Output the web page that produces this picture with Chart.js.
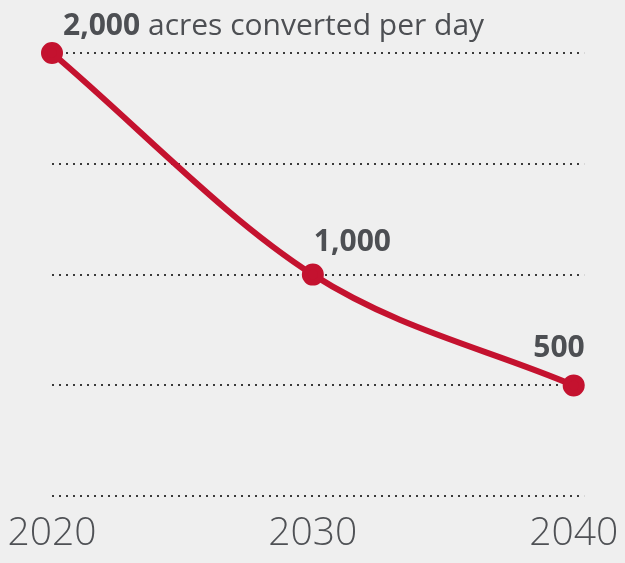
<!DOCTYPE html>
<html>
<head>
<meta charset="utf-8">
<script src="https://cdn.jsdelivr.net/npm/chart.js@4"></script>
<style>
    html, body { margin: 0; padding: 0; background: #efefef; }
    #wrap { width: 625px; height: 563px; position: relative; }
</style>
</head>
<body>
<div id="wrap"><canvas id="acresChart"></canvas></div>
<script>
// Data
const years = [2020, 2030, 2040];
const acres = [2000, 1000, 500];
const pointLabels = ['2,000', '1,000', '500'];
const gridValues = [0, 500, 1000, 1500, 2000];
const unitText = 'acres converted per day';

const lineRed = '#c4122f';
const textGray = '#4d4f53';

// Labels next to the points
const pointLabelPlugin = {
    id: 'pointLabels',
    afterDatasetsDraw(chart) {
        const ctx = chart.ctx;
        const pts = chart.getDatasetMeta(0).data;
        ctx.save();
        ctx.fillStyle = textGray;
        ctx.textBaseline = 'alphabetic';

        // first point: bold value + unit text
        ctx.font = 'bold 30px "Open Sans", sans-serif';
        ctx.textAlign = 'left';
        const x0 = pts[0].x + 11;
        const y0 = pts[0].y - 18;
        ctx.fillText(pointLabels[0], x0, y0);
        const w = ctx.measureText(pointLabels[0] + ' ').width;
        ctx.font = '30px "Open Sans", sans-serif';
        ctx.fillText(unitText, x0 + w, y0);

        // middle point
        ctx.font = 'bold 30px "Open Sans", sans-serif';
        ctx.fillText(pointLabels[1], pts[1].x + 1, pts[1].y - 24);

        // last point
        ctx.textAlign = 'right';
        ctx.fillText(pointLabels[2], pts[2].x + 11, pts[2].y - 28);
        ctx.restore();
    }
};

const ctx = document.getElementById('acresChart').getContext('2d');
new Chart(ctx, {
    type: 'line',
    data: {
        datasets: [{
            data: years.map((y, i) => ({ x: y, y: acres[i] })),
            borderColor: lineRed,
            backgroundColor: lineRed,
            borderWidth: 6,
            pointRadius: 8,
            pointHoverRadius: 8,
            cubicInterpolationMode: 'monotone',
            clip: false
        }]
    },
    options: {
        responsive: true,
        maintainAspectRatio: false,
        animation: false,
        layout: { padding: { top: 53, left: 52, right: 40, bottom: 0 } },
        plugins: { legend: { display: false }, tooltip: { enabled: false } },
        scales: {
            x: {
                type: 'linear',
                min: 2020,
                max: 2040.4,
                afterBuildTicks: scale => { scale.ticks = years.map(v => ({ value: v })); },
                grid: { display: false },
                border: { display: false },
                ticks: {
                    callback: v => String(v),
                    color: '#4f5155',
                    font: { family: '"Open Sans", sans-serif', size: 39, weight: '300' },
                    padding: 6,
                    maxRotation: 0
                }
            },
            y: {
                min: 0,
                max: 2000,
                afterBuildTicks: scale => { scale.ticks = gridValues.map(v => ({ value: v })); },
                border: { display: false, dash: [2, 5] },
                grid: {
                    color: '#3a3a3a',
                    lineWidth: 2,
                    drawTicks: false
                },
                ticks: { display: false }
            }
        }
    },
    plugins: [pointLabelPlugin]
});
</script>
</body>
</html>
